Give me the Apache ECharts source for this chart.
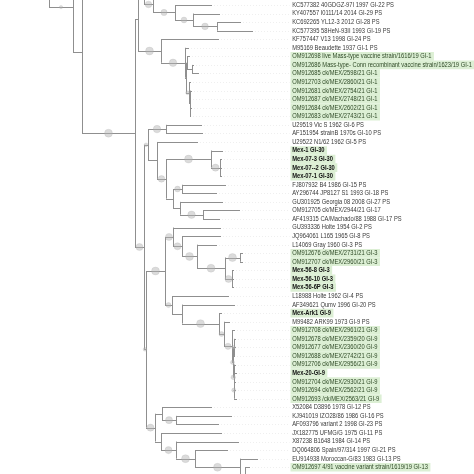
<!DOCTYPE html>
<html><head><meta charset="utf-8">
<script src="https://cdn.jsdelivr.net/npm/echarts@6/dist/echarts.min.js"></script>
<style>html,body{margin:0;padding:0;background:#fff}#c{width:474px;height:474px}</style>
</head><body><div id="c"></div>
<script>
// ---- leaf labels (top to bottom) ----
const leafNames = [
"KC577382 40GDGZ-97I 1997 GI-22 PS",
"KY407557 I0111/14 2014 GI-29 PS",
"KC692265 YL12-3 2012 GI-28 PS",
"KC577395 58HeN-93II 1993 GI-19 PS",
"KF757447 V13 1998 GI-24 PS",
"M95169 Beaudette 1937 GI-1 PS",
"OM912698 live Mass-type vaccine strain/1616/19 GI-1",
"OM912686 Mass-type- Conn recombinant vaccine strain/1623/19 GI-1",
"OM912685 ck/MEX/2598/21 GI-1",
"OM912703 ck/MEX/2860/21 GI-1",
"OM912681 ck/MEX/2754/21 GI-1",
"OM912687 ck/MEX/2748/21 GI-1",
"OM912684 ck/MEX/2602/21 GI-1",
"OM912683 ck/MEX/2743/21 GI-1",
"U29519 Vic S 1962 GI-6 PS",
"AF151954 strainB 1970s GI-10 PS",
"U29522 N1/62 1962 GI-5 PS",
"Mex-1 GI-30",
"Mex-07-3 GI-30",
"Mex-07--2 GI-30",
"Mex-07-1 GI-30",
"FJ807932 B4 1986 GI-15 PS",
"AY296744 JP8127 S1 1993 GI-18 PS",
"GU301925 Georgia 08 2008 GI-27 PS",
"OM912705 ck/MEX/2944/21 GI-17",
"AF419315 CA/Machado/88 1988 GI-17 PS",
"GU393336 Holte 1954 GI-2 PS",
"JQ964061 L165 1965 GI-8 PS",
"L14069 Gray 1960 GI-3 PS",
"OM912676 ck/MEX/2731/21 GI-3",
"OM912707 ck/MEX/2960/21 GI-3",
"Mex-56-8 GI-3",
"Mex-56-10 GI-3",
"Mex-56-6P GI-3",
"L18988 Holte 1962 GI-4 PS",
"AF349621 Qumv 1996 GI-20 PS",
"Mex-Ark1 GI-9",
"M99482 ARK99 1973 GI-9 PS",
"OM912708 ck/MEX/2961/21 GI-9",
"OM912678 ck/MEX/2359/20 GI-9",
"OM912677 ck/MEX/2360/20 GI-9",
"OM912688 ck/MEX/2742/21 GI-9",
"OM912706 ck/MEX/2956/21 GI-9",
"Mex-20-GI-9",
"OM912704 ck/MEX/2930/21 GI-9",
"OM912694 ck/MEX/2562/21 GI-9",
"OM912693 /ck/MEX/2563/21 GI-9",
"X52084 D3896 1978 GI-12 PS",
"KJ941019 IZO28/86 1986 GI-16 PS",
"AF093796 variant 2 1998 GI-23 PS",
"JX182775 UFMG/G 1975 GI-11 PS",
"X87238 B1648 1984 GI-14 PS",
"DQ064806 Spain/97/314 1997 GI-21 PS",
"EU914938 Moroccan-G/83 1983 GI-13 PS",
"OM912697 4/91 vaccine variant strain/1619/19 GI-13"
];
// label style group: p plain, g highlighted, b highlighted bold
const leafGroup = [
"p","p","p","p","p","p","g","g","g","g","g","g","g","g","p","p","p",
"b","b","b","b","p","p","p","p","p","p","p","p","g","g","b","b","b",
"p","p","b","p","g","g","g","g","g","b","g","g","g",
"p","p","p","p","p","p","p","g"
];
// cumulative divergence (tip depth) of each visible leaf
const leafDepth = [212,220,241,253,219,189,190,194,199,191,192,191,192,191,202,203,198,
223,222,222,222,226,217,223,240,220,221,221,217,243,243,234,234,234,229,235,222,230,
235,236,236,235,236,237,236,236,237,212,232,219,222,239,228,258,250];
// leaves of the full figure that fall outside the cropped view
const hiddenLeaves = {
  hW:{row:-8, depth:120}, hV:{row:-4, depth:130}, hU:{row:-3, depth:160},
  hT:{row:-3, depth:200}, h0:{row:0, depth:200}, h56:{row:56, depth:256}, h57:{row:57, depth:252}
};
// internal nodes: N(depth, bootstrap support, ...children)
function N(d, s, ...c){ return {d:d, s:s, c:c}; }
const cladeGI22 = N(175,75,1, N(193,70,2, N(217,80,3,4)));
const cladeGI1 = N(185,90,6, N(186,0, N(187,0,7,N(192,0,8,9)), N(189,45,10,N(190,0,11,12,13,14))));
const upper = N(138,0, N(144,0,"hT", N(153,80,"h0", cladeGI22)), N(161,95,5, cladeGI1));
const cladeGI30 = N(166,80, N(211,95,18,N(220,85,19,20,21)), N(173,0, N(182,70,22,23), N(180,0,24,N(203,90,25,26))));
const middle = N(148,45, N(166,90,15,16), N(157,0,17, cladeGI30));
const cladeGI3 = N(173,85,27, N(182,85,28, N(197,95,29, N(225,95,N(240,95,30,31),N(232,85,32,33,34)))));
const cladeGI9 = N(219,95,37, N(224,60,38, N(232,75,39, N(233,50,N(234,45,40,41,42),N(233.5,55,43,44,N(234,50,45,46,47))))));
const cladeGI4 = N(172,60,35, N(182,0,36, cladeGI9));
const cladeLower = N(155,85, N(162,0,48,N(176,85,49,50)), N(161,0,51, N(176,85,52, N(195,95,53, N(240,95,54,N(245,0,55,"h56","h57"))))));
const lowerAll = N(146,45, N(165,95, cladeGI3, cladeGI4), cladeLower);
const tree = N(49,0,"hW", N(73,40,"hV", N(82,0,"hU", N(135,95, upper, N(144,85, middle, lowerAll)))));

// ---- layout ----
const branches = [], supports = [];
function layout(node, px){
  if (typeof node !== 'object'){
    let row, depth;
    if (typeof node === 'number'){ row = node; depth = leafDepth[node-1]; }
    else { row = hiddenLeaves[node].row; depth = hiddenLeaves[node].depth; }
    branches.push([px, row, depth, row]);
    return row;
  }
  const ys = node.c.map(ch => layout(ch, node.d));
  const y = (ys[0] + ys[ys.length-1]) / 2;
  branches.push([node.d, ys[0], node.d, ys[ys.length-1]]);
  if (px != null){
    branches.push([px, y, node.d, y]);
    if (node.s > 0) supports.push([(px + node.d)/2, y, node.s]);
  }
  return y;
}
layout(tree, null);

const LABEL_X = 290.5;
const guides = leafDepth.map((d,i)=>[d, i+1]);
const labelData = leafNames.map((n,i)=>[i+1, i]);

const chart = echarts.init(document.getElementById('c'), null, {renderer:'canvas'});
chart.setOption({
  animation:false,
  grid:{left:0,right:0,top:0.72,bottom:2.48},
  xAxis:{type:'value',min:0,max:474,show:false},
  yAxis:{type:'value',min:0.5,max:55.5,inverse:true,show:false},
  series:[
    {type:'custom', data:guides, silent:true,
     renderItem:(p,api)=>{
       const a=api.coord([api.value(0)+2, api.value(1)]), b=api.coord([LABEL_X-1, api.value(1)]);
       return {type:'line', shape:{x1:a[0],y1:Math.round(a[1])+0.5,x2:b[0],y2:Math.round(b[1])+0.5},
         style:{stroke:'#efefef',lineWidth:1,lineDash:[1,2]}};
     }},
    {type:'custom', data:branches, silent:true,
     renderItem:(p,api)=>{
       const a=api.coord([api.value(0),api.value(1)]), b=api.coord([api.value(2),api.value(3)]);
       const horiz = Math.abs(a[1]-b[1])<0.01;
       const sx = horiz?a[0]:Math.round(a[0])+0.5, sy = horiz?Math.round(a[1])+0.5:a[1];
       const ex = horiz?b[0]:Math.round(b[0])+0.5, ey = horiz?Math.round(b[1])+0.5:b[1];
       return {type:'line', shape:{x1:sx,y1:sy,x2:ex,y2:ey}, style:{stroke:'#8f8f8f',lineWidth:1}};
     }},
    {type:'scatter', data:supports, silent:true,
     symbolSize:(v)=>v[2]/12,
     itemStyle:{color:'rgba(180,180,180,0.6)',borderColor:'rgba(150,150,150,0.4)',borderWidth:0.5}},
    {type:'custom', data:labelData, silent:true,
     renderItem:(p,api)=>{
       const i=api.value(1), g=leafGroup[i];
       const pt=api.coord([LABEL_X, api.value(0)]);
       return {type:'text', x:pt[0], y:pt[1], scaleX:0.825,
         style:{text:leafNames[i],
           font:(g==='b'?'bold ':'')+'7px "Liberation Sans", Arial, sans-serif',
           fill: g==='p' ? '#3a3a3a' : (g==='b' ? '#111' : '#2f4a27'),
           backgroundColor: g==='p' ? null : '#dcefd4',
           padding:[0,3,0,2], lineHeight:8.6,
           verticalAlign:'middle', align:'left'}};
     }}
  ]
});
</script></body></html>
